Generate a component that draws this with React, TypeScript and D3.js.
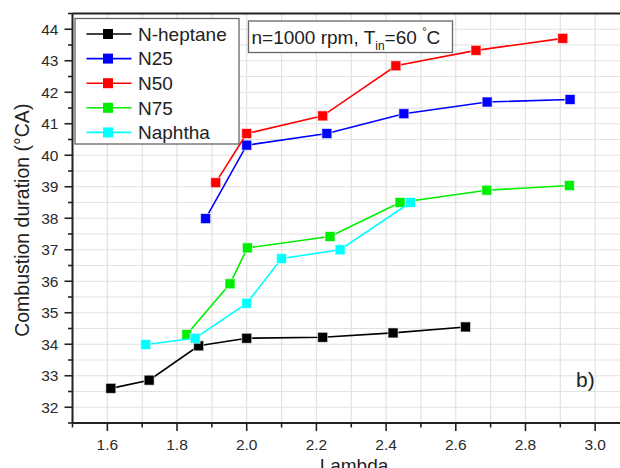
import React from "react";
import * as d3 from "d3";

const seriesNames = ["N-heptane", "N25", "N50", "N75", "Naphtha"];
const seriesColors = ["#000000", "#0000ff", "#ff0000", "#00ee00", "#00ffff"];

const nHeptane: [number, number][] = [
  [1.61, 32.6], [1.72, 32.86], [1.862, 33.95], [2.0, 34.19], [2.218, 34.22], [2.42, 34.36], [2.628, 34.55],
];
const n25: [number, number][] = [
  [1.882, 37.99], [2.0, 40.32], [2.23, 40.69], [2.451, 41.32], [2.69, 41.69], [2.928, 41.77],
];
const n50: [number, number][] = [
  [1.911, 39.13], [2.0, 40.69], [2.218, 41.25], [2.428, 42.84], [2.658, 43.33], [2.907, 43.71],
];
const n75: [number, number][] = [
  [1.828, 34.31], [1.952, 35.92], [2.002, 37.06], [2.239, 37.42], [2.44, 38.5], [2.689, 38.89], [2.926, 39.04],
];
const naphtha: [number, number][] = [
  [1.71, 33.99], [1.852, 34.19], [2.0, 35.3], [2.1, 36.72], [2.268, 37.0], [2.47, 38.5],
];
const allSeries = [nHeptane, n25, n50, n75, naphtha];

const xMajorTicks = [1.6, 1.8, 2.0, 2.2, 2.4, 2.6, 2.8, 3.0];
const yMajorTicks = [32, 33, 34, 35, 36, 37, 38, 39, 40, 41, 42, 43, 44];

const W = 620;
const H = 468;
const FONT = "'Liberation Sans', Arial, sans-serif";

export default function App() {
  const x = d3.scaleLinear().domain([1.5, 3.1]).range([72.5, 630]);
  const y = d3.scaleLinear().domain([31.5, 44.5]).range([423, 13.5]);

  const xGrid = d3.range(15, 32).map((v) => v / 10);
  const yGrid = d3.range(63, 90).map((v) => v / 2);

  const line = d3
    .line<[number, number]>()
    .x((d) => x(d[0]))
    .y((d) => y(d[1]));

  const left = x.range()[0];
  const right = x.range()[1];
  const top = y.range()[1];
  const bottom = y.range()[0];
  const ms = 10;

  return (
    <svg
      width={W}
      height={H}
      style={{ position: "absolute", left: 0, top: 0, background: "#fff" }}
      fontFamily={FONT}
    >
      <rect width={W} height={H} fill="#fff" />
      {/* grid */}
      {xGrid.map((v) => (
        <line key={"gx" + v} x1={x(v)} x2={x(v)} y1={top} y2={bottom} stroke="#e2e2e2" strokeWidth={1.2} />
      ))}
      {yGrid.map((v) => (
        <line key={"gy" + v} x1={left} x2={right} y1={y(v)} y2={y(v)} stroke="#e2e2e2" strokeWidth={1.2} />
      ))}

      {/* series */}
      {allSeries.map((s, i) => (
        <g key={"s" + i}>
          <path d={line(s) || ""} fill="none" stroke={seriesColors[i]} strokeWidth={1.6} />
          {s.map((d, j) => (
            <rect
              key={j}
              x={x(d[0]) - ms / 2}
              y={y(d[1]) - ms / 2}
              width={ms}
              height={ms}
              fill={seriesColors[i]}
              stroke="#ffffff"
              strokeOpacity={0.6}
              strokeWidth={1}
            />
          ))}
        </g>
      ))}

      {/* frame */}
      <line x1={left} x2={right + 5} y1={top} y2={top} stroke="#222" strokeWidth={2} />
      <line x1={left} x2={left} y1={top} y2={bottom} stroke="#222" strokeWidth={2} />
      <line x1={left} x2={right + 5} y1={bottom} y2={bottom} stroke="#222" strokeWidth={2} />

      {/* y ticks */}
      {yGrid.map((v) => {
        const major = Number.isInteger(v);
        return (
          <line
            key={"ty" + v}
            x1={left - (major ? 8 : 4.5)}
            x2={left}
            y1={y(v)}
            y2={y(v)}
            stroke="#222"
            strokeWidth={1.6}
          />
        );
      })}
      {yMajorTicks.map((v) => (
        <text key={"ly" + v} x={58.5} y={y(v)} dy="0.35em" textAnchor="end" fontSize={15.5} fill="#2a2a2a">
          {v}
        </text>
      ))}

      {/* x ticks */}
      {xGrid.map((v) => {
        const major = xMajorTicks.some((t) => Math.abs(t - v) < 1e-6);
        return (
          <line
            key={"tx" + v}
            x1={x(v)}
            x2={x(v)}
            y1={bottom}
            y2={bottom + (major ? 8 : 4.5)}
            stroke="#222"
            strokeWidth={1.6}
          />
        );
      })}
      {xMajorTicks.map((v) => (
        <text key={"lx" + v} x={x(v)} y={450} textAnchor="middle" fontSize={15.5} fill="#2a2a2a">
          {v.toFixed(1)}
        </text>
      ))}

      {/* axis titles */}
      <text x={354} y={472} textAnchor="middle" fontSize={19} fill="#222">
        Lambda
      </text>
      <text
        transform={`translate(29, ${(top + bottom) / 2 + 2}) rotate(-90)`}
        textAnchor="middle"
        fontSize={19.5}
        fill="#222"
      >
        Combustion duration (°CA)
      </text>

      {/* legend */}
      <rect x={75} y={18.5} width={164} height={125.5} fill="#fff" stroke="#666" strokeWidth={1.3} />
      {seriesNames.map((name, i) => {
        const ly = 34 + i * 24.6;
        return (
          <g key={"lg" + i}>
            <line x1={86.5} x2={131.5} y1={ly} y2={ly} stroke={seriesColors[i]} strokeWidth={1.6} />
            <rect x={108 - ms / 2} y={ly - ms / 2} width={ms} height={ms} fill={seriesColors[i]} />
            <text x={138} y={ly} dy="0.36em" fontSize={19} fill="#222">
              {name}
            </text>
          </g>
        );
      })}

      {/* annotation */}
      <rect x={248.5} y={21} width={204} height={31.5} fill="#fff" stroke="#666" strokeWidth={1.3} />
      <text x={251.5} y={43.5} fontSize={19} fill="#222">
        n=1000 rpm, T
        <tspan fontSize={12} dy={6}>in</tspan>
        <tspan fontSize={19} dy={-6}>=60 </tspan>
        <tspan fontSize={11} dy={-9}>°</tspan>
        <tspan fontSize={19} dy={9}>C</tspan>
      </text>

      {/* panel label */}
      <text x={576} y={387} fontSize={21} fill="#222">
        b)
      </text>
    </svg>
  );
}
